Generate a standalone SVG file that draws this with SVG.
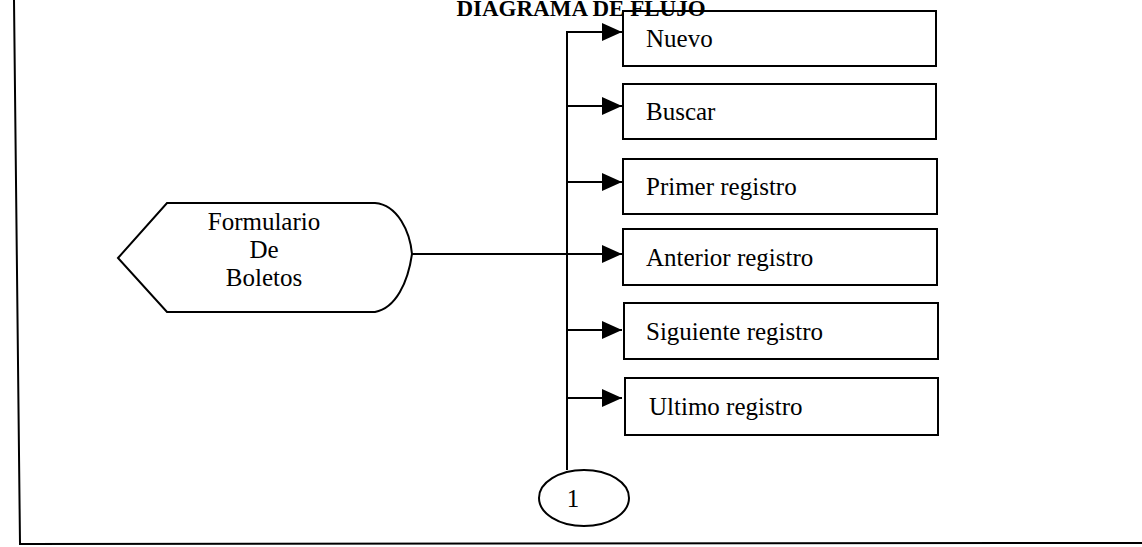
<svg xmlns="http://www.w3.org/2000/svg" width="1142" height="547" viewBox="0 0 1142 547">
<style>
.t{font-family:"Liberation Serif","Times New Roman",serif;font-size:25px;fill:#000}
.title{font-family:"Liberation Serif","Times New Roman",serif;font-size:23px;font-weight:bold;fill:#000}
.box{fill:#fff;stroke:#000;stroke-width:2}
.ln{fill:none;stroke:#000;stroke-width:2}
</style>
<defs>
<marker id="ah" viewBox="0 0 20 18" refX="20" refY="9" markerWidth="20" markerHeight="18" markerUnits="userSpaceOnUse" orient="auto">
<path d="M0,0 L20,9 L0,18 Z" fill="#000"/>
</marker>
</defs>
<rect width="1142" height="547" fill="#fff"/>
<g id="frame">
<path class="ln" d="M14,0 L20,544 L1142,543" stroke-width="1.5"/>
</g>
<g id="connectors">
<path class="ln" d="M567,470 L567,32 L622,32" marker-end="url(#ah)"/>
<path class="ln" d="M567,106 L622,106" marker-end="url(#ah)"/>
<path class="ln" d="M567,182 L622,182" marker-end="url(#ah)"/>
<path class="ln" d="M412,254 L622,254" marker-end="url(#ah)"/>
<path class="ln" d="M567,330 L622,330" marker-end="url(#ah)"/>
<path class="ln" d="M567,398 L622,398" marker-end="url(#ah)"/>
</g>
<g id="formulario">
<path class="box" d="M118,258 L167,203 L375,203 C398,205 410,232 412,254 C408,282 396,308 375,312 L167,312 Z"/>
<text class="t" x="264" y="230" text-anchor="middle">Formulario</text>
<text class="t" x="264" y="258" text-anchor="middle">De</text>
<text class="t" x="264" y="286" text-anchor="middle">Boletos</text>
</g>
<g id="nuevo">
<rect class="box" x="623" y="11" width="313" height="55"/>
<text class="t" x="646" y="47">Nuevo</text>
</g>
<text class="title" x="581" y="16" text-anchor="middle">DIAGRAMA DE FLUJO</text>
<g id="buscar">
<rect class="box" x="623" y="84" width="313" height="55"/>
<text class="t" x="646" y="120">Buscar</text>
</g>
<g id="primer">
<rect class="box" x="623" y="159" width="314" height="55"/>
<text class="t" x="646" y="195">Primer registro</text>
</g>
<g id="anterior">
<rect class="box" x="623" y="229" width="314" height="56"/>
<text class="t" x="646" y="266">Anterior registro</text>
</g>
<g id="siguiente">
<rect class="box" x="624" y="303" width="314" height="56"/>
<text class="t" x="646" y="340">Siguiente registro</text>
</g>
<g id="ultimo">
<rect class="box" x="625" y="378" width="313" height="57"/>
<text class="t" x="649" y="415">Ultimo registro</text>
</g>
<g id="conector1">
<ellipse class="box" cx="584" cy="498" rx="45" ry="28"/>
<text class="t" x="573" y="507" text-anchor="middle">1</text>
</g>
</svg>
